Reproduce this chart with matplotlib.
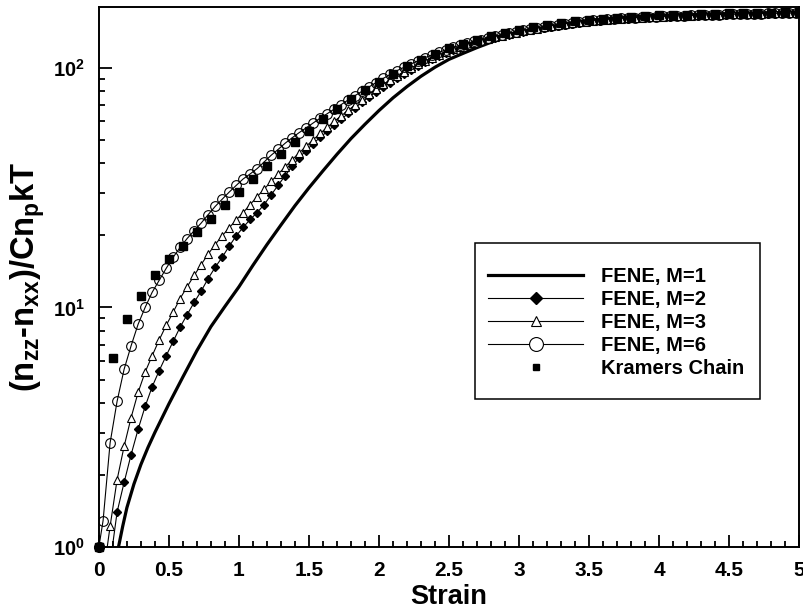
import numpy as np
import matplotlib
matplotlib.use('Agg')
import matplotlib.pyplot as plt
from matplotlib.patches import Rectangle
from matplotlib.ticker import MultipleLocator, LogLocator, FuncFormatter, NullFormatter

# Strain grids (x positions of the sampled points).
strain_fene = [0.0] + list(np.round(np.arange(0.03, 5.0, 0.05), 2))
strain_m1 = [0.14, 0.17, 0.2, 0.25, 0.3, 0.35, 0.4] + list(np.round(np.arange(0.5, 5.01, 0.1), 1))
strain_kramers = list(np.round(np.arange(0.0, 5.01, 0.1), 1))

# FENE dumbbell, M=1 (solid thick line, no markers).
fene_m1 = [1.0, 1.22, 1.46, 1.83, 2.21, 2.60, 3.01,
	3.96, 5.13, 6.61, 8.32, 10.1, 12.2,
	15.0, 18.3, 22.1, 26.6, 31.6, 37.2, 43.6, 50.7, 58.2, 66.4,
	75.0, 83.6, 92.3, 100.7, 108.6, 115.0, 121.6, 128.0, 134.0, 140.0,
	144.0, 148.0, 151.0, 155.0, 158.0, 160.0, 162.0, 164.0, 165.0, 166.0,
	166.5, 167.0, 167.5, 168.0, 168.5, 169.0, 169.5, 170.0, 170.5, 171.0]

# FENE, M=2 (filled diamonds).
fene_m2 = [1.0,
	0.5, 0.85, 1.40, 1.86, 2.43, 3.10, 3.86, 4.66, 5.44, 6.28,
	7.21, 8.28, 9.33, 10.5, 11.7, 13.2, 14.7, 16.2, 18.0, 19.9,
	21.6, 23.3, 24.9, 26.9, 29.5, 32.4, 35.5, 38.9, 42.2, 45.2,
	48.3, 51.3, 54.3, 57.5, 61.0, 64.6, 68.2, 71.9, 75.9, 79.4,
	83.2, 86.9, 90.6, 94.4, 98.2, 101.9, 105.4, 108.9, 112.2, 115.3,
	118.3, 121.3, 124.2, 126.8, 129.1, 131.5, 133.7, 135.8, 137.7, 139.6,
	141.6, 143.5, 145.3, 147.0, 148.6, 150.1, 151.5, 152.9, 154.1, 155.3,
	156.4, 157.5, 158.4, 159.3, 160.1, 160.8, 161.4, 162.0, 162.5, 163.0,
	163.5, 163.9, 164.3, 164.7, 165.1, 165.5, 165.9, 166.2, 166.6, 166.9,
	167.2, 167.5, 167.8, 168.0, 168.3, 168.5, 168.7, 168.9, 169.1, 169.3]

# FENE, M=3 (open triangles).
fene_m3 = [1.0,
	0.75, 1.22, 1.91, 2.63, 3.47, 4.42, 5.37, 6.28, 7.31, 8.41,
	9.55, 10.9, 12.2, 13.6, 15.1, 16.7, 18.3, 19.9, 21.5, 23.2,
	24.9, 26.9, 29.0, 31.2, 33.6, 36.1, 38.6, 41.4, 44.2, 47.1,
	50.1, 53.3, 56.5, 59.8, 63.1, 66.5, 70.1, 73.8, 77.6, 81.5,
	85.3, 89.1, 92.9, 96.6, 100.2, 103.8, 107.2, 110.4, 113.5, 116.7,
	119.7, 122.5, 125.0, 127.6, 130.0, 132.1, 134.3, 136.5, 138.4, 140.3,
	142.3, 144.2, 146.0, 147.8, 149.3, 150.7, 152.2, 153.6, 154.8, 155.9,
	157.0, 158.1, 159.0, 159.8, 160.6, 161.3, 161.8, 162.3, 162.9, 163.4,
	163.8, 164.2, 164.6, 165.0, 165.4, 165.8, 166.1, 166.5, 166.9, 167.2,
	167.4, 167.7, 168.0, 168.2, 168.5, 168.8, 168.9, 169.1, 169.3, 169.6]

# FENE, M=6 (open circles).
fene_m6 = [1.0,
	1.29, 2.72, 4.06, 5.52, 6.92, 8.51, 10.0, 11.56, 12.97, 14.55,
	16.2, 17.8, 19.4, 20.9, 22.5, 24.4, 26.4, 28.3, 30.3, 32.3,
	34.4, 36.1, 38.0, 40.5, 43.2, 45.7, 48.5, 51.1, 53.7, 56.2,
	58.9, 61.7, 64.4, 67.3, 70.3, 73.5, 76.7, 80.0, 83.4, 86.9,
	90.4, 94.0, 97.5, 100.7, 104.0, 107.2, 110.4, 113.5, 116.4, 119.1,
	121.9, 124.5, 126.8, 129.1, 131.2, 133.4, 135.5, 137.7, 139.6, 141.6,
	143.6, 145.5, 147.2, 148.9, 150.3, 151.7, 153.1, 154.5, 155.6, 156.7,
	157.8, 158.9, 159.6, 160.3, 161.1, 161.8, 162.2, 162.6, 163.3, 163.7,
	164.1, 164.4, 164.8, 165.2, 165.6, 166.0, 166.3, 166.7, 167.1, 167.5,
	167.5, 167.9, 168.3, 168.3, 168.7, 169.0, 169.0, 169.4, 169.4, 169.8]

# Kramers chain (filled squares, no line).
kramers = [1.0,
	6.15, 8.95, 11.15, 13.6, 15.9, 18.05, 20.6, 23.4, 26.7, 30.4,
	34.4, 39.0, 43.6, 49.0, 54.7, 61.0, 67.6, 74.1, 80.7, 87.7,
	94.4, 101.6, 108.4, 114.8, 120.8, 126.2, 131.2, 135.8, 140.3, 144.5,
	147.9, 151.0, 153.8, 156.3, 158.5, 160.3, 161.8, 163.3, 164.4, 165.6,
	166.3, 167.1, 167.9, 168.7, 169.0, 169.4, 169.8, 170.2, 170.6, 170.6]

labels = ['FENE, M=1', 'FENE, M=2', 'FENE, M=3', 'FENE, M=6', 'Kramers Chain']
x_ticks = [0, 0.5, 1, 1.5, 2, 2.5, 3, 3.5, 4, 4.5, 5]


def main():
	plt.rcParams['font.family'] = ['Liberation Sans', 'DejaVu Sans']
	plt.rcParams['font.weight'] = 'bold'
	plt.rcParams['mathtext.fontset'] = 'custom'
	plt.rcParams['mathtext.rm'] = 'Liberation Sans:bold'
	plt.rcParams['mathtext.it'] = 'Liberation Sans:bold'
	plt.rcParams['mathtext.bf'] = 'Liberation Sans:bold'
	plt.rcParams['mathtext.default'] = 'bf'

	fig = plt.figure(figsize=(8.04, 6.16), dpi=100)
	ax = fig.add_axes([0.123, 0.112, 0.871, 0.877])

	# Thick line for the single-segment dumbbell.
	ax.plot(strain_m1, fene_m1, '-', color='black', lw=2.3, label=labels[0])
	ax.plot(strain_fene, fene_m2, '-', color='black', lw=0.8, marker='D', ms=4.5,
		mfc='black', mec='black', label=labels[1])
	ax.plot(strain_fene, fene_m3, '-', color='black', lw=0.8, marker='^', ms=6,
		mfc='white', mec='black', mew=0.8, label=labels[2])
	ax.plot(strain_fene, fene_m6, '-', color='black', lw=0.8, marker='o', ms=7,
		mfc='none', mec='black', mew=0.8, label=labels[3])
	ax.plot(strain_kramers, kramers, 's', color='black', ms=5.5, label=labels[4])

	# Starting points sit right on the corner, draw them unclipped.
	ax.plot(strain_fene[:1], fene_m6[:1], 'o', ms=7, color='black', clip_on=False, zorder=5)
	ax.plot(strain_fene[:1], fene_m2[:1], 'D', ms=5, color='black', clip_on=False, zorder=5)
	ax.plot(strain_kramers[:1], kramers[:1], 's', ms=5.5, color='black', clip_on=False, zorder=5)

	ax.set_yscale('log')
	ax.set_xlim(0, 5)
	ax.set_ylim(1, 180)

	ax.set_xticks(x_ticks)
	ax.set_xticklabels(['%g' % t for t in x_ticks])
	ax.xaxis.set_minor_locator(MultipleLocator(0.1))
	ax.yaxis.set_major_locator(LogLocator(base=10))
	ax.yaxis.set_minor_locator(LogLocator(base=10, subs=np.arange(2, 10)))
	ax.yaxis.set_minor_formatter(NullFormatter())
	ax.yaxis.set_major_formatter(FuncFormatter(lambda v, p: r'$10^{%d}$' % int(round(np.log10(v)))))

	ax.tick_params(which='both', direction='in', top=False, right=False, width=1.3)
	ax.tick_params(axis='x', which='major', length=9, labelsize=15, pad=10)
	ax.tick_params(axis='y', which='major', length=9, labelsize=14.5, pad=10)
	ax.tick_params(which='minor', length=4.5)
	for sp in ax.spines.values():
		sp.set_linewidth(1.4)

	ax.set_xlabel('Strain', fontsize=19.5, fontweight='bold', labelpad=3)
	ax.set_ylabel(r'(n$_{zz}$-n$_{xx}$)/Cn$_{p}$kT', fontsize=23.5, fontweight='bold', labelpad=4)

	leg = ax.legend(loc='upper left', bbox_to_anchor=(0.556, 0.518), frameon=False,
		prop={'family': 'Liberation Sans', 'weight': 'bold', 'size': 14.5},
		handlelength=4.7, handletextpad=0.9, labelspacing=0.2,
		borderpad=0, borderaxespad=0)
	handles = leg.legend_handles
	handles[1].set_markersize(6)
	handles[2].set_markersize(7.5)
	handles[3].set_markersize(10)
	handles[3].set_markerfacecolor('white')
	handles[4].set_markersize(5)

	# Frame around the legend, drawn by hand for its padding.
	ax.add_patch(Rectangle((0.537, 0.274), 0.407, 0.289, transform=ax.transAxes,
		fill=False, edgecolor='black', lw=1.1, zorder=6))

	fig.savefig('out.png', dpi=100)
	plt.close(fig)


if __name__ == "__main__":
	main()
